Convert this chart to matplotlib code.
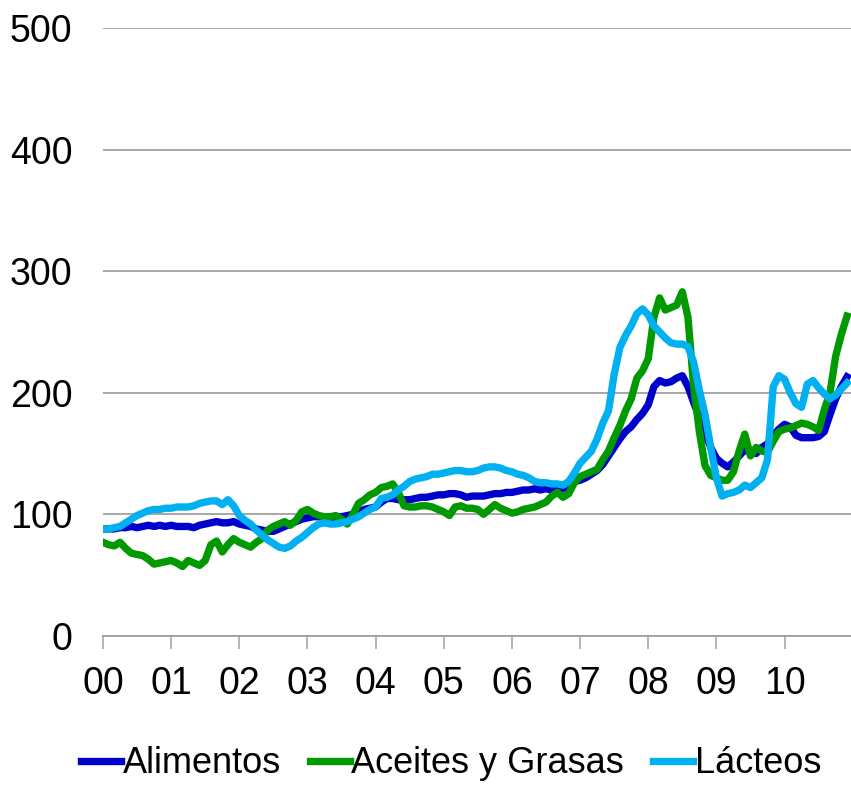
import numpy as np
import matplotlib.pyplot as plt

# Índices mensuales enero 2000 - diciembre 2010
years = ['00', '01', '02', '03', '04', '05', '06', '07', '08', '09', '10']

alimentos = [
    88, 88, 88, 89, 89, 90, 89, 90, 91, 90, 91, 90,
    91, 90, 90, 90, 89, 91, 92, 93, 94, 93, 93, 94,
    92, 91, 90, 88, 87, 86, 86, 88, 90, 92, 94, 96,
    97, 98, 98, 97, 97, 98, 98, 99, 100, 102, 104, 105,
    106, 110, 113, 113, 112, 112, 112, 113, 114, 114, 115, 116,
    116, 117, 117, 116, 114, 115, 115, 115, 116, 117, 117, 118,
    118, 119, 120, 120, 121, 120, 121, 120, 120, 121, 124, 127,
    128, 130, 133, 136, 141, 148, 155, 162, 168, 172, 178, 183,
    190, 205, 210, 208, 209, 212, 214, 205, 192, 180, 167, 155,
    146, 142, 139, 143, 148, 153, 151, 150, 155, 158, 165, 170,
    174, 172, 165, 163, 163, 163, 164, 168, 182, 195, 205, 213,
]

aceites = [
    77, 75, 74, 77, 72, 68, 67, 66, 63, 59, 60, 61,
    62, 60, 57, 62, 60, 58, 62, 75, 78, 69, 75, 80,
    77, 75, 73, 77, 80, 87, 90, 92, 94, 91, 95, 102,
    104, 101, 99, 98, 98, 99, 96, 92, 100, 109, 112, 116,
    118, 122, 123, 125, 118, 107, 106, 106, 107, 107, 106, 104,
    102, 99, 106, 107, 105, 105, 104, 100, 104, 108, 105, 103,
    101, 102, 104, 105, 106, 108, 110, 115, 118, 114, 117, 126,
    131, 133, 135, 137, 145, 152, 163, 173, 185, 195, 212, 218,
    228, 262, 278, 268, 270, 272, 283, 262, 205, 168, 140, 132,
    130, 128, 128, 135, 152, 166, 148, 155, 152, 151, 160, 168,
    170, 171, 173, 175, 174, 172, 169, 186, 200, 230, 248, 263,
]

lacteos = [
    88, 88, 89, 90, 93, 96, 99, 101, 103, 104, 104, 105,
    105, 106, 106, 106, 107, 109, 110, 111, 111, 108, 112, 107,
    99, 95, 92, 87, 83, 79, 76, 73, 72, 74, 78, 81,
    85, 89, 92, 93, 92, 92, 93, 94, 96, 98, 101, 104,
    106, 113, 114, 116, 120, 123, 127, 129, 130, 131, 133, 133,
    134, 135, 136, 136, 135, 135, 136, 138, 139, 139, 138, 136,
    135, 133, 132, 130, 127, 126, 126, 125, 125, 124, 127, 134,
    142, 147, 152, 162, 175, 185, 215, 237, 247, 255, 265, 269,
    264, 255, 250, 245, 241, 240, 240, 238, 225, 202, 182, 155,
    130, 115, 117, 118, 120, 124, 122, 126, 130, 145, 205, 214,
    211, 200, 191, 188, 207, 210, 204, 199, 195, 198, 203, 208,
]

plt.rcParams['font.family'] = ['Liberation Sans', 'DejaVu Sans']

fig = plt.figure(figsize=(8.51, 7.87), dpi=100)
ax = fig.add_axes([0.121, 0.192, 0.881, 0.7725])

x = np.arange(len(alimentos))
ax.plot(x, alimentos, color='#0000CC', lw=5.3, label='Alimentos', solid_joinstyle='round')
ax.plot(x, aceites, color='#009900', lw=5.3, label='Aceites y Grasas', solid_joinstyle='round')
ax.plot(x, lacteos, color='#00B0F0', lw=5.3, label='Lácteos', solid_joinstyle='round')

ax.set_xlim(0, 132)
ax.set_ylim(0, 500)
ax.set_yticks(range(0, 501, 100))
ax.yaxis.grid(True, color='#a0a0a0', lw=1.3)
ax.set_axisbelow(True)
ax.tick_params(axis='y', length=0, pad=22, labelsize=27)

ax.set_xticks(np.arange(0, 12 * len(years), 12))
ax.set_xticklabels(years)
ax.tick_params(axis='x', direction='out', length=9, width=1.1, color='#a0a0a0',
               pad=13, labelsize=27)

for side in ['left', 'right', 'top']:
    ax.spines[side].set_visible(False)
ax.spines['bottom'].set_color('#a0a0a0')
ax.spines['bottom'].set_linewidth(1.3)

fig.legend(loc='lower center', bbox_to_anchor=(0.53, -0.034), ncol=3, frameon=False,
           fontsize=26, handlelength=1.1, handletextpad=0.05, columnspacing=0.8)

fig.savefig('out.png', dpi=100)
